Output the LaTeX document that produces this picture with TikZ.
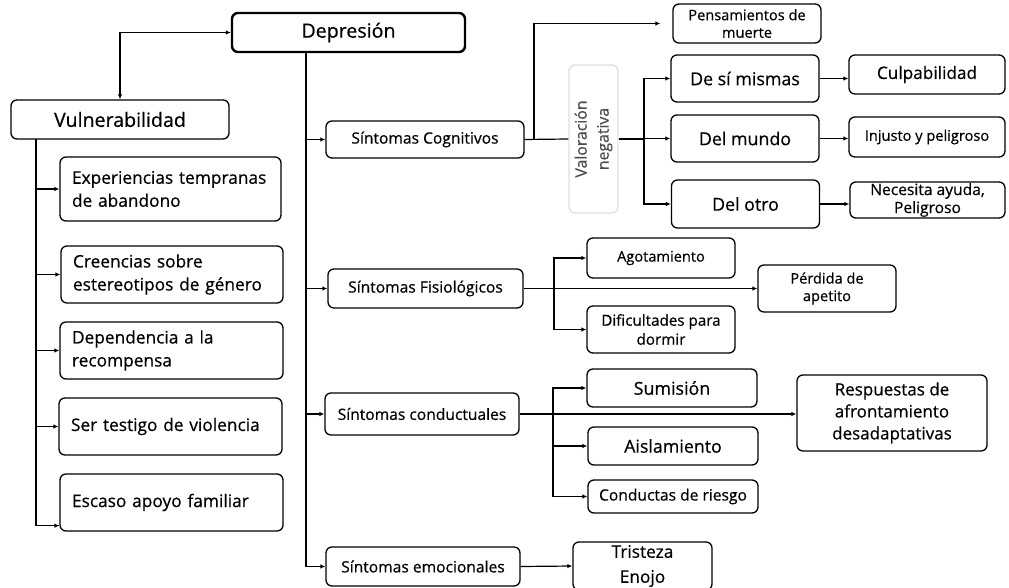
\documentclass[tikz,border=0pt]{standalone}
\usepackage{fontspec}
\setmainfont{Open Sans}[FakeBold=0.5]
\usetikzlibrary{arrows.meta,calc}
\newcommand{\fs}[2]{\fontsize{#1}{#2}\selectfont}
\begin{document}
\begin{tikzpicture}[x=1pt,y=-1pt,
  box/.style={draw, rounded corners=6pt, line width=1.3pt, align=center, inner sep=1pt},
  lbox/.style={box, align=left, text width=#1, inner xsep=12pt},
  arr/.style={line width=1.2pt, -{Latex[length=5pt,width=4.5pt]}},
  arrboth/.style={line width=1.2pt, {Latex[length=5pt,width=4.5pt]}-{Latex[length=5pt,width=4.5pt]}},
  ln/.style={line width=1.2pt},
  fbig/.style={font=\fs{19.6}{22}},
  fleft/.style={font=\fs{17.3}{23}},
  fsin/.style={font=\fs{15.6}{18}},
  fsmall/.style={font=\fs{14.6}{17.5}},
  fmid/.style={font=\fs{17.8}{21}},
]
\useasboundingbox (0,0) rectangle (1009,588);

% main nodes
\node[box, line width=2.4pt, fbig, minimum width=233pt, minimum height=39pt] (dep) at (348.5,32.5) {Depresión};
\node[box, fbig, minimum width=218pt, minimum height=39pt] (vul) at (120,119.5) {Vulnerabilidad};

% vulnerability factors
\node[lbox=197pt, fleft, minimum height=64pt] (exp) at (170.5,189) {Experiencias tempranas\\de abandono};
\node[lbox=198pt, fleft, minimum height=57pt] (cre) at (172,274.5) {Creencias sobre\\estereotipos de género};
\node[lbox=199pt, fleft, minimum height=57pt] (dpe) at (171.5,350.5) {Dependencia a la\\recompensa};
\node[lbox=199pt, fleft, minimum height=57pt] (ser) at (170.5,426.5) {Ser testigo de violencia};
\node[lbox=199pt, fleft, minimum height=57pt] (esc) at (171.5,502.5) {Escaso apoyo familiar};

% symptom groups
\node[box, fsin, minimum width=198pt, minimum height=37pt] (cog) at (425,139.5) {Síntomas Cognitivos};
\node[box, fsin, minimum width=195pt, minimum height=39pt] (fis) at (425.5,288.5) {Síntomas Fisiológicos};
\node[box, fsin, minimum width=194pt, minimum height=42pt] (con) at (422,414) {Síntomas conductuales};
\node[box, fsin, minimum width=194pt, minimum height=39pt] (emo) at (423,566.5) {Síntomas emocionales};

% cognitive
\node[box, fsmall, minimum width=148pt, minimum height=39pt] (pen) at (747,23.5) {Pensamientos de\\muerte};
\node[box, draw=gray!25, text=black!70, rotate=90, font=\fs{15.8}{22}, minimum width=148pt, minimum height=49pt] (val) at (593.5,139) {Valoración\\negativa};
\node[box, fmid, minimum width=148pt, minimum height=47pt] (dsm) at (745,78.5) {De sí mismas};
\node[box, fmid, minimum width=148pt, minimum height=47pt] (dmu) at (745,138.5) {Del mundo};
\node[box, fmid, minimum width=148pt, minimum height=48pt] (dot) at (745.5,204) {Del otro};
\node[box, font=\fs{17.2}{20}, minimum width=156pt, minimum height=39pt] (cul) at (927,74.5) {Culpabilidad};
\node[box, fsmall, minimum width=156pt, minimum height=40pt] (inj) at (927,137) {Injusto y peligroso};
\node[box, font=\fs{15.6}{18}, minimum width=155pt, minimum height=36pt] (nec) at (927.5,200) {Necesita ayuda,\\Peligroso};

% physiological
\node[box, fsmall, minimum width=148pt, minimum height=40pt] (ago) at (661,258) {Agotamiento};
\node[box, font=\fs{15.2}{19}, minimum width=148pt, minimum height=47pt] (dif) at (661,329.5) {Dificultades para\\dormir};
\node[box, fsmall, minimum width=138pt, minimum height=47pt] (per) at (827,288.5) {Pérdida de\\apetito};

% behavioural
\node[box, fmid, minimum width=170pt, minimum height=38pt] (sum) at (672,388) {Sumisión};
\node[box, fmid, minimum width=170pt, minimum height=38pt] (ais) at (673,446) {Aislamiento};
\node[box, fsin, minimum width=170pt, minimum height=33pt] (cdr) at (673,496.5) {Conductas de riesgo};
\node[box, font=\fs{17}{22}, minimum width=190pt, minimum height=76pt] (res) at (892,413) {Respuestas de\\afrontamiento\\desadaptativas};

% emotional
\node[box, font=\fs{17.3}{25}, minimum width=139pt, minimum height=48pt] (tri) at (642.5,566) {Tristeza\\Enojo};

% branch points
\coordinate (vbx) at (36,139);
\coordinate (dbx) at (306,52);
\coordinate (cbr) at (534,139.5);
\coordinate (vbr) at (644,139);
\coordinate (fbr) at (554,288.5);
\coordinate (kbr) at (553,414);

% connectors
\draw[arrboth] (vul.north) |- (dep.west);

\draw[ln] (vbx) |- ($(esc.south west)+(0,-6)$);
\draw[arr] (vbx) |- (exp.west);
\draw[arr] (vbx) |- (cre.west);
\draw[arr] (vbx) |- (dpe.west);
\draw[arr] (vbx) |- (ser.west);
\draw[arr] (vbx) |- ($(esc.south west)+(0,-6)$);

\draw[arr] (dbx) |- (cog.west);
\draw[arr] (dbx) |- (fis.west);
\draw[arr] (dbx) |- (con.west);
\draw[arr] (dbx) |- (emo.west);

\draw[ln] (cog.east) -- (val.north);
\draw[arr, shorten >=12pt] (cbr) |- (pen.west);
\draw[ln] (val.south) -- (vbr);
\draw[arr] (vbr) |- (dsm.west);
\draw[arr] (vbr) |- (dmu.west);
\draw[arr] (vbr) |- (dot.west);
\draw[arr] (dsm.east) -- (dsm.east -| cul.west);
\draw[arr] (dmu.east) -- (dmu.east -| inj.west);
\draw[arr] (dot.east) -- (dot.east -| nec.west);

\draw[arr] (fis.east) -- (per.west);
\draw[arr] (fbr) |- (ago.west);
\draw[arr] (fbr) |- (dif.west);

\draw[arr] (con.east) -- (con.east -| res.west);
\draw[arr] (kbr) |- (sum.west);
\draw[arr] (kbr) |- (ais.west);
\draw[arr] (kbr) |- (cdr.west);

\draw[arr] (emo.east) -- (tri.west);
\end{tikzpicture}
\end{document}
